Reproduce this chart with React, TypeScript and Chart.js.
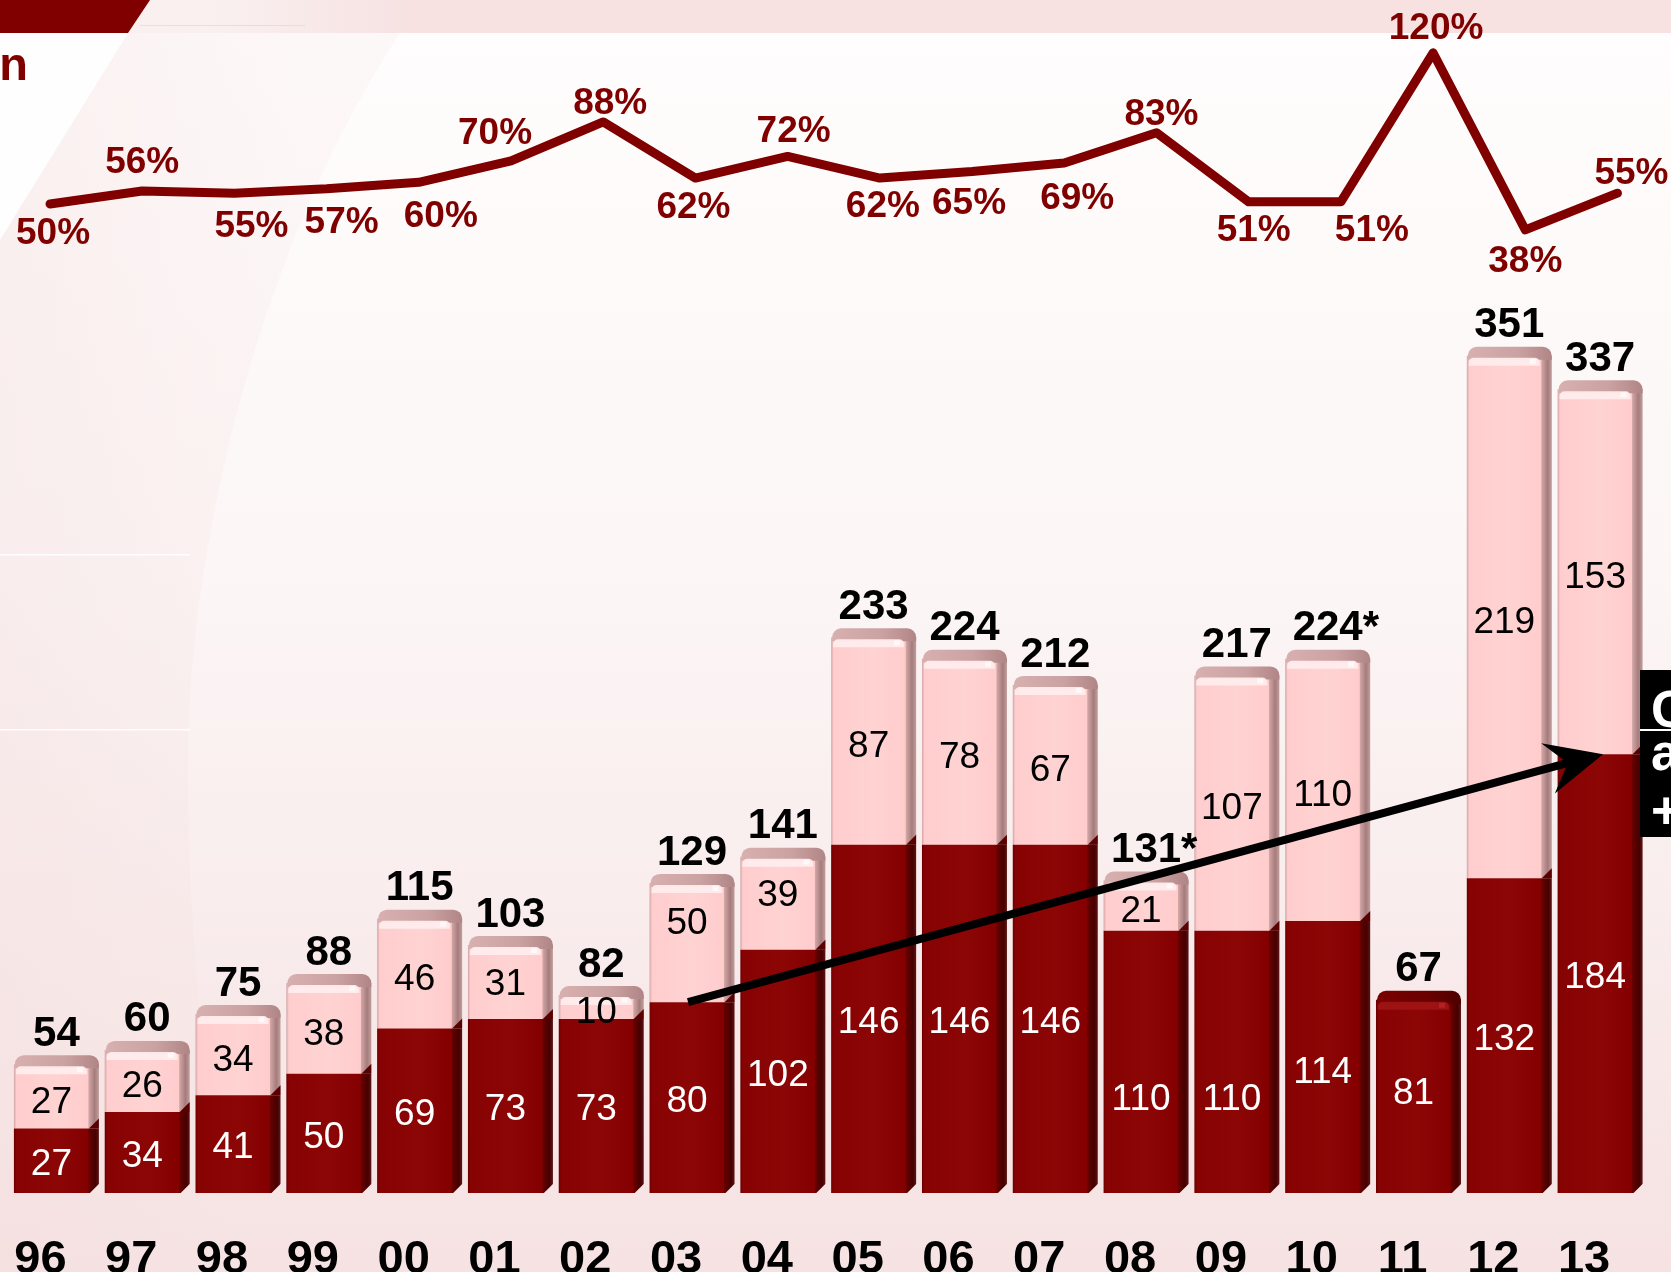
import React, { useEffect, useRef } from 'react';
import { Chart, registerables } from 'chart.js';

Chart.register(...registerables);

// ---------- data ----------
const years = ['96', '97', '98', '99', '00', '01', '02', '03', '04', '05', '06', '07', '08', '09', '10', '11', '12', '13'];
const baseValues = [27, 34, 41, 50, 69, 73, 73, 80, 102, 146, 146, 146, 110, 110, 114, 81, 132, 184];
const upperValues = [27, 26, 34, 38, 46, 31, 10, 50, 39, 87, 78, 67, 21, 107, 110, 0, 219, 153];
const totalLabels = ['54', '60', '75', '88', '115', '103', '82', '129', '141', '233', '224', '212', '131*', '217', '224*', '67', '351', '337'];
const ratioValues = [50, 56, 55, 57, 60, 70, 88, 62, 72, 62, 65, 69, 83, 51, 51, 120, 38, 55];
const trendFrom = { year: '03', value: 80 };
const trendTo = { year: '13', value: 184 };
const sideNote = ['C', 'a', '+'];
const titleTail = 'n';

// ---------- label placement (pixels, styling only) ----------
const ratioLabelDx = [3, 0, 17, 15, 22, -16, 7, -2, 6, 3, -3, 13, 5, 5, 31, 3, 0, 14];
const ratioLabelDy = [30, -28, 34, 34, 34, -27, -18, 30, -25, 29, 32, 36, -18, 29, 29, -24, 32, -19];
const baseLabelDy = [4, 4, 4, 4, 4, 4, 4, 4, 4, 4, 4, 4, 38, 38, 16, -3, 4, 4];
const upperLabelDy = [6, 6, 6, 6, 6, 3, 6, -19, -7, 6, 6, 6, 6, 6, 6, 6, 6, 6];

// ---------- styles ----------
const FONT = "'Liberation Sans', Arial, sans-serif";
const BAR_PCT = 0.936;
const FACE_FRAC = 0.882;
const RED = '#800000';

function barFill(c: any, dark: boolean) {
  const face = dark ? '#860000' : '#ffd0d0';
  const chart = c.chart;
  const xs = chart.scales && chart.scales.x;
  if (!xs || c.type !== 'data' || !isFinite(xs.left)) return face;
  const cat = (xs.right - xs.left) / years.length;
  const w = cat * BAR_PCT;
  const cx = xs.getPixelForValue(c.dataIndex);
  const x0 = cx - w / 2;
  const g = chart.ctx.createLinearGradient(x0, 0, x0 + w, 0);
  const f = FACE_FRAC;
  if (dark) {
    g.addColorStop(0, '#6a0000');
    g.addColorStop(0.03, '#870202');
    g.addColorStop(0.5, '#8c0606');
    g.addColorStop(f - 0.01, '#840000');
    g.addColorStop(f, '#660000');
    g.addColorStop(0.96, '#460000');
    g.addColorStop(1, '#5c1414');
  } else {
    g.addColorStop(0, '#d4a4a4');
    g.addColorStop(0.03, '#ffcdcd');
    g.addColorStop(0.5, '#ffd3d3');
    g.addColorStop(f - 0.01, '#ffcccc');
    g.addColorStop(f, '#d2a5a5');
    g.addColorStop(0.95, '#a57c7c');
    g.addColorStop(1, '#c29c9c');
  }
  return g;
}

const backgroundPlugin = {
  id: 'bgDeco',
  beforeDraw(chart: any) {
    const ctx = chart.ctx;
    const W = chart.width, H = chart.height;
    ctx.save();
    const g = ctx.createLinearGradient(0, 0, 0, H);
    g.addColorStop(0, '#fffdfd');
    g.addColorStop(0.45, '#fcf6f6');
    g.addColorStop(1, '#f6e2e2');
    ctx.fillStyle = g;
    ctx.fillRect(0, 0, W, H);

    // left pale band
    ctx.beginPath();
    ctx.moveTo(0, 33);
    ctx.lineTo(400, 33);
    ctx.bezierCurveTo(270, 230, 190, 520, 188, 760);
    ctx.bezierCurveTo(188, 960, 210, 1140, 240, 1272);
    ctx.lineTo(0, 1272);
    ctx.closePath();
    const g2 = ctx.createLinearGradient(0, 0, 300, 0);
    g2.addColorStop(0, 'rgba(244,222,222,0.4)');
    g2.addColorStop(1, 'rgba(246,228,228,0.2)');
    ctx.fillStyle = g2;
    ctx.fill();

    // white wedge under the title corner
    ctx.beginPath();
    ctx.moveTo(0, 33);
    ctx.lineTo(128, 33);
    ctx.lineTo(0, 240);
    ctx.closePath();
    ctx.fillStyle = '#fffefe';
    ctx.fill();

    // faint lines on the left
    ctx.fillStyle = 'rgba(255,255,255,0.9)';
    ctx.fillRect(0, 554, 190, 1.5);
    ctx.fillRect(0, 729, 190, 1.5);

    // top strip
    const g3 = ctx.createLinearGradient(0, 0, 420, 0);
    g3.addColorStop(0, '#fbefef');
    g3.addColorStop(0.5, '#faf0f0');
    g3.addColorStop(1, '#f7e1e1');
    ctx.fillStyle = g3;
    ctx.fillRect(0, 0, W, 33);
    ctx.fillStyle = 'rgba(230,200,200,0.5)';
    ctx.fillRect(140, 25, 165, 1);

    // dark corner
    ctx.beginPath();
    ctx.moveTo(0, 0);
    ctx.lineTo(150, 0);
    ctx.lineTo(128, 33);
    ctx.lineTo(0, 33);
    ctx.closePath();
    ctx.fillStyle = RED;
    ctx.fill();

    // title tail
    ctx.font = `bold 47px ${FONT}`;
    ctx.fillStyle = RED;
    ctx.textAlign = 'right';
    ctx.textBaseline = 'alphabetic';
    ctx.fillText(titleTail, 28, 80);
    ctx.restore();
  },
};

const decoPlugin = {
  id: 'barDeco',
  afterDatasetsDraw(chart: any) {
    const ctx = chart.ctx;
    const xs = chart.scales.x;
    const ys = chart.scales.y;
    const dMeta = chart.getDatasetMeta(0);
    const lMeta = chart.getDatasetMeta(1);
    const rMeta = chart.getDatasetMeta(2);
    ctx.save();

    years.forEach((_, i) => {
      const de = dMeta.data[i].getProps(['x', 'y', 'base', 'width'], true);
      const hasUpper = upperValues[i] > 0;
      const te = hasUpper ? lMeta.data[i].getProps(['x', 'y', 'base', 'width'], true) : de;
      const w = de.width;
      const left = de.x - w / 2;
      const faceW = w * FACE_FRAC;

      // bottom chamfer of the side
      ctx.beginPath();
      ctx.moveTo(left + faceW, de.base + 1);
      ctx.lineTo(left + w + 1, de.base + 1);
      ctx.lineTo(left + w + 1, de.base - 10);
      ctx.closePath();
      ctx.fillStyle = '#f7e4e4';
      ctx.fill();

      // slanted boundary on the side
      if (hasUpper) {
        ctx.beginPath();
        ctx.moveTo(left + faceW, de.y);
        ctx.lineTo(left + w, de.y - 10);
        ctx.lineTo(left + w, de.y);
        ctx.closePath();
        ctx.fillStyle = '#5a0000';
        ctx.fill();
      }

      // top cap
      const cg = ctx.createLinearGradient(left, 0, left + w, 0);
      if (hasUpper) {
        cg.addColorStop(0, '#d8b0b0');
        cg.addColorStop(0.6, '#cba2a2');
        cg.addColorStop(1, '#b08585');
      } else {
        cg.addColorStop(0, '#7a0000');
        cg.addColorStop(0.6, '#6a0000');
        cg.addColorStop(1, '#4e0000');
      }
      ctx.beginPath();
      (ctx as any).roundRect(left + 1, te.y - 9, w - 1, 13, [9, 9, 0, 0]);
      ctx.fillStyle = cg;
      ctx.fill();
      ctx.beginPath();
      (ctx as any).roundRect(left + 2, te.y + 2, faceW - 4, 8, [5, 5, 0, 0]);
      ctx.fillStyle = hasUpper ? 'rgba(255,236,236,0.95)' : 'rgba(160,20,20,0.9)';
      ctx.fill();
      ctx.fillStyle = hasUpper ? 'rgba(255,250,250,0.9)' : 'rgba(190,40,40,0.7)';
      ctx.fillRect(left + faceW - 12, te.y + 3, 6, 5);
    });

    // segment values
    ctx.textAlign = 'center';
    ctx.textBaseline = 'middle';
    ctx.font = `37px ${FONT}`;
    years.forEach((_, i) => {
      const de = dMeta.data[i].getProps(['x', 'y', 'base'], true);
      ctx.fillStyle = '#ffffff';
      ctx.fillText(String(baseValues[i]), de.x - 5, (de.y + de.base) / 2 + baseLabelDy[i]);
      if (upperValues[i] > 0) {
        const le = lMeta.data[i].getProps(['x', 'y', 'base'], true);
        ctx.fillStyle = '#000000';
        ctx.fillText(String(upperValues[i]), le.x - 5, (le.y + le.base) / 2 + upperLabelDy[i]);
      }
    });

    // totals (the numeric part is centred on the bar, a footnote mark hangs to the right)
    ctx.font = `bold 42px ${FONT}`;
    ctx.fillStyle = '#000000';
    ctx.textAlign = 'left';
    years.forEach((_, i) => {
      const el = upperValues[i] > 0 ? lMeta.data[i] : dMeta.data[i];
      const p = el.getProps(['x', 'y'], true);
      const txt = totalLabels[i];
      const num = txt.replace(/\*/g, '');
      const wNum = ctx.measureText(num).width;
      ctx.fillText(txt, p.x - wNum / 2, p.y - 30);
    });

    // ratio labels
    ctx.textAlign = 'center';
    ctx.font = `bold 37px ${FONT}`;
    ctx.fillStyle = RED;
    rMeta.data.forEach((pt: any, i: number) => {
      const p = pt.getProps(['x', 'y'], true);
      ctx.fillText(ratioValues[i] + '%', p.x + ratioLabelDx[i], p.y + ratioLabelDy[i]);
    });

    // trend arrow
    const x1 = xs.getPixelForValue(years.indexOf(trendFrom.year));
    const y1 = ys.getPixelForValue(trendFrom.value);
    const x2 = xs.getPixelForValue(years.indexOf(trendTo.year));
    const y2 = ys.getPixelForValue(trendTo.value);
    const ang = Math.atan2(y2 - y1, x2 - x1);
    const ux = Math.cos(ang), uy = Math.sin(ang);
    const px = -uy, py = ux;
    const L = 54, HW = 26;
    ctx.strokeStyle = '#000';
    ctx.lineWidth = 8;
    ctx.lineCap = 'butt';
    ctx.beginPath();
    ctx.moveTo(x1 - 4, y1);
    ctx.lineTo(x2 - ux * L * 0.6, y2 - uy * L * 0.6);
    ctx.stroke();
    ctx.beginPath();
    ctx.moveTo(x2 + 3, y2);
    ctx.lineTo(x2 - ux * L + px * HW, y2 - uy * L + py * HW);
    ctx.lineTo(x2 - ux * L * 0.62, y2 - uy * L * 0.62);
    ctx.lineTo(x2 - ux * L - px * HW, y2 - uy * L - py * HW);
    ctx.closePath();
    ctx.fillStyle = '#000';
    ctx.fill();

    // side note box (cut off at the right edge)
    ctx.fillStyle = '#000';
    ctx.fillRect(1640, 670, 40, 167);
    ctx.fillStyle = '#fff';
    ctx.fillRect(1640, 729, 40, 2);
    ctx.font = `bold 52px ${FONT}`;
    ctx.textAlign = 'left';
    ctx.textBaseline = 'alphabetic';
    ctx.fillText(sideNote[0], 1651, 727);
    ctx.fillText(sideNote[1], 1651, 770);
    ctx.fillText(sideNote[2], 1651, 828);
    ctx.restore();
  },
};

export default function App() {
  const ref = useRef<HTMLCanvasElement | null>(null);
  useEffect(() => {
    document.body.style.margin = '0';
    const canvas = ref.current;
    if (!canvas) return;
    const chart = new Chart(canvas, {
      type: 'bar',
      data: {
        labels: years,
        datasets: [
          {
            label: 'base',
            data: baseValues,
            backgroundColor: (c: any) => barFill(c, true),
            borderWidth: 0,
            categoryPercentage: 1,
            barPercentage: BAR_PCT,
            stack: 'main',
            grouped: false,
            xAxisID: 'x',
            yAxisID: 'y',
            order: 1,
          } as any,
          {
            label: 'upper',
            data: upperValues,
            backgroundColor: (c: any) => barFill(c, false),
            borderWidth: 0,
            categoryPercentage: 1,
            barPercentage: BAR_PCT,
            stack: 'main',
            grouped: false,
            xAxisID: 'x',
            yAxisID: 'y',
            order: 1,
          } as any,
          {
            type: 'line',
            label: 'ratio',
            data: ratioValues.map((v, i) => ({ x: i, y: v })),
            xAxisID: 'x2',
            yAxisID: 'y2',
            borderColor: RED,
            borderWidth: 9,
            pointRadius: 0,
            tension: 0,
            borderJoinStyle: 'round',
            borderCapStyle: 'round',
            fill: false,
            order: 0,
          } as any,
        ],
      },
      options: {
        animation: false,
        responsive: false,
        devicePixelRatio: 1,
        layout: { padding: { left: 11, right: 25.5, top: 0, bottom: 0 } },
        plugins: {
          legend: { display: false },
          tooltip: { enabled: false },
          title: { display: false },
        },
        scales: {
          x: {
            type: 'category',
            stacked: true,
            offset: true,
            position: 'bottom',
            grid: { display: false, drawTicks: false },
            border: { display: false },
            ticks: {
              color: '#000',
              font: { family: FONT, size: 47, weight: 'bold', lineHeight: 2.85 },
              padding: 0,
              labelOffset: -16,
              maxRotation: 0,
              minRotation: 0,
              autoSkip: false,
            },
            afterFit: (scale: any) => {
              scale.height = 79;
            },
          },
          y: { stacked: true, display: false, min: 0, max: 500.2 },
          x2: { type: 'linear', display: false, offset: false, min: -0.423, max: 17.304 },
          y2: { type: 'linear', display: false, min: -408.3, max: 144.5 },
        },
      } as any,
      plugins: [backgroundPlugin, decoPlugin],
    });
    return () => chart.destroy();
  }, []);
  return (
    <div style={{ position: 'fixed', left: 0, top: 0, width: 1671, height: 1272 }}>
      <canvas ref={ref} width={1671} height={1272} style={{ display: 'block', width: 1671, height: 1272 }} />
    </div>
  );
}
